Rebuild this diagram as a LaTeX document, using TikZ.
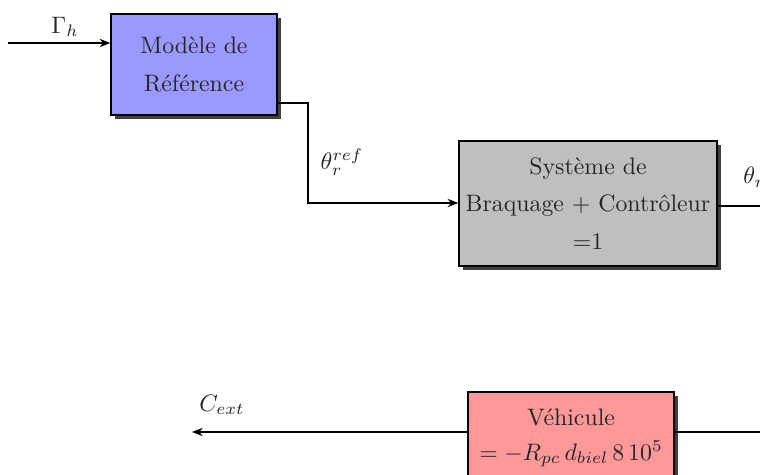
\documentclass[tikz,border=0pt]{standalone}
\usetikzlibrary{shadows,arrows.meta}
\newcommand\pxu{0.42pt}
\tikzset{
  blk/.style={draw=black, line width=0.6pt, align=center, inner sep=2pt, text=black!85,
    drop shadow={shadow xshift=1.5pt, shadow yshift=-1.5pt, fill=black!75, opacity=1}},
  conn/.style={line width=0.5pt},
  arr/.style={conn, -{Stealth[length=4.5pt,width=3.5pt]}},
  lbl/.style={inner sep=0pt, text=black!85}
}
\begin{document}
\begin{tikzpicture}[x=0.42pt,y=-0.42pt]
\useasboundingbox (0,0) rectangle (760,475);
\clip (0,0) rectangle (760,475);
% blocks
\node[blk, fill=blue!40, minimum width=166*\pxu, minimum height=101*\pxu] (m) at (194,64.5)
  {Modèle de\\[3.8pt]Référence};
\node[blk, fill=gray!50, minimum width=258*\pxu, minimum height=125*\pxu] (s) at (588,203.5)
  {Système de\\[3.6pt]Braquage + Contrôleur\\[3.6pt]=1};
\node[blk, fill=red!40, minimum width=206*\pxu, minimum height=92*\pxu] (v) at (571,438)
  {Véhicule\\[2.5pt]$=-R_{pc}\,d_{biel}\,8\,10^5$};
% coordinates
\coordinate (in) at (8,43);
\coordinate (k1) at (308,103);
\coordinate (k2) at (308,203);
\coordinate (sout) at (790,206);
\coordinate (vin) at (790,432);
\coordinate (cout) at (192,432);
% connectors
\draw[arr] (in) -- (in -| m.west);
\draw[arr] (m.east |- k1) -- (k1) -- (k2) -- (k2 -| s.west);
\draw[conn] (s.east |- sout) -- (sout);
\draw[conn] (vin) -- (vin -| v.east);
\draw[arr] (v.west |- cout) -- (cout);
% labels
\node[lbl] (lg) at (65,27) {$\Gamma_h$};
\node[lbl] (lt) at (342,162) {$\theta_r^{ref}$};
\node[lbl, anchor=west] (lo) at (743,177) {$\theta_r$};
\node[lbl] (lc) at (222,405) {$C_{ext}$};
\end{tikzpicture}
\end{document}
